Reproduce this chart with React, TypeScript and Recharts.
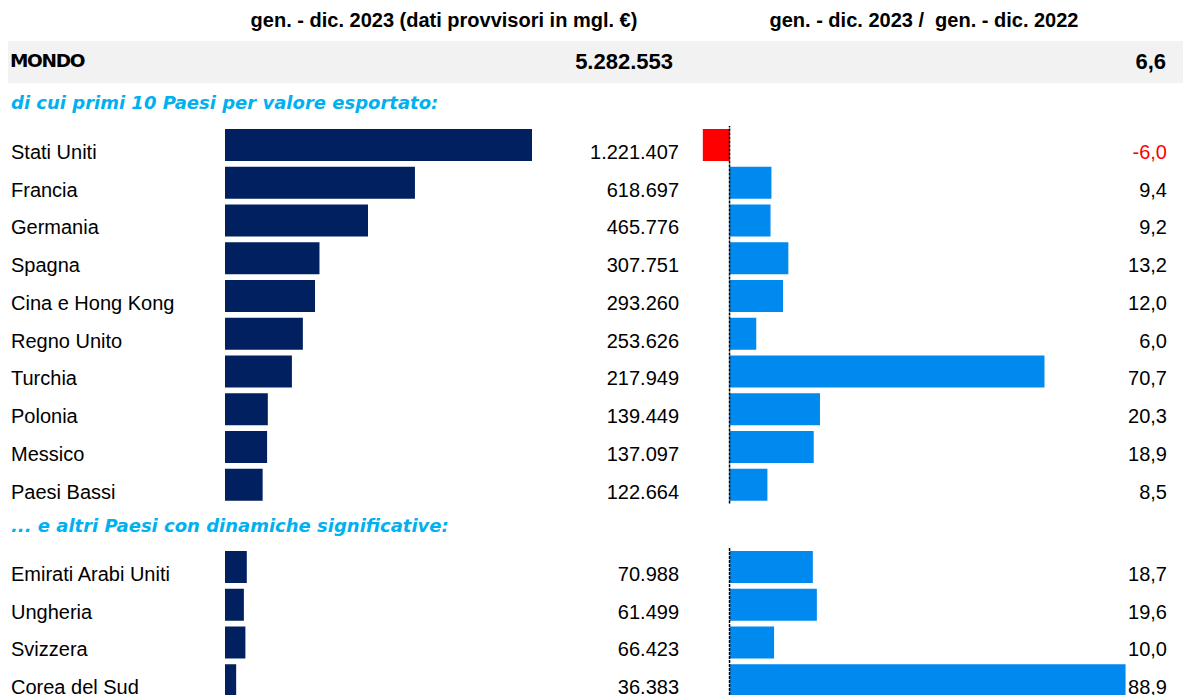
import React from 'react';
import { BarChart, Bar, XAxis, YAxis, Cell, ReferenceLine } from 'recharts';

// export values (thousand €) and change vs previous year (%)
const topCountries = ['Stati Uniti', 'Francia', 'Germania', 'Spagna', 'Cina e Hong Kong', 'Regno Unito', 'Turchia', 'Polonia', 'Messico', 'Paesi Bassi'];
const topExports = [1221407, 618697, 465776, 307751, 293260, 253626, 217949, 139449, 137097, 122664];
const topChanges = [-6.0, 9.4, 9.2, 13.2, 12.0, 6.0, 70.7, 20.3, 18.9, 8.5];

const otherCountries = ['Emirati Arabi Uniti', 'Ungheria', 'Svizzera', 'Corea del Sud'];
const otherExports = [70988, 61499, 66423, 36383];
const otherChanges = [18.7, 19.6, 10.0, 88.9];

const worldExports = 5282553;
const worldChange = 6.6;

const NAVY = '#002060';
const BLUE = '#0089EF';
const CYAN = '#00B0F0';
const ARIAL = '"Liberation Sans", Arial, sans-serif';
const TAHOMA = '"DejaVu Sans", Verdana, sans-serif';

const fmtInt = (v: number) => String(Math.round(v)).replace(/\B(?=(\d{3})+(?!\d))/g, '.');
const fmtPct = (v: number) => v.toFixed(1).replace('.', ',');

type Row = { name: string; value: number; change: number };

const makeRows = (names: string[], values: number[], changes: number[]): Row[] =>
  names.map((name, i) => ({ name, value: values[i], change: changes[i] }));

const topRows = makeRows(topCountries, topExports, topChanges);
const otherRows = makeRows(otherCountries, otherExports, otherChanges);

const ROW_H = 37.75;
const TEXT_DY = 14;

// left block: country name, bar, value
const ExportBars = ({ rows }: { rows: Row[] }) => {
  const byName: Record<string, Row> = {};
  rows.forEach(r => (byName[r.name] = r));
  const NameTick = (props: any) => (
    <text x={11} y={props.y + TEXT_DY} fontSize={20} fontFamily={ARIAL} fill="#000">
      {props.payload.value}
    </text>
  );
  const ValueTick = (props: any) => (
    <text x={679} y={props.y + TEXT_DY} fontSize={20} fontFamily={ARIAL} fill="#000" textAnchor="end">
      {fmtInt(byName[props.payload.value].value)}
    </text>
  );
  return (
    <BarChart
      width={690}
      height={rows.length * ROW_H}
      data={rows}
      layout="vertical"
      margin={{ top: 0, right: 0, bottom: 0, left: 0 }}
      barSize={32}
    >
      <XAxis type="number" domain={[0, 1000000]} allowDataOverflow hide />
      <YAxis yAxisId="names" type="category" dataKey="name" width={225} axisLine={false} tickLine={false} tick={NameTick} />
      <YAxis yAxisId="values" orientation="right" type="category" dataKey="name" width={158} axisLine={false} tickLine={false} tick={ValueTick} />
      <Bar yAxisId="names" dataKey="value" fill={NAVY} isAnimationActive={false} />
    </BarChart>
  );
};

// right block: change bar and percentage
const ChangeBars = ({ rows }: { rows: Row[] }) => {
  const byName: Record<string, Row> = {};
  rows.forEach(r => (byName[r.name] = r));
  const PctTick = (props: any) => {
    const v = byName[props.payload.value].change;
    return (
      <text x={482} y={props.y + TEXT_DY} fontSize={20} fontFamily={ARIAL} fill={v < 0 ? '#FF0000' : '#000'} textAnchor="end">
        {fmtPct(v)}
      </text>
    );
  };
  return (
    <BarChart
      width={498}
      height={rows.length * ROW_H}
      data={rows}
      layout="vertical"
      margin={{ top: 0, right: 0, bottom: 0, left: 0 }}
      barSize={32}
    >
      <XAxis type="number" domain={[-10, 100]} allowDataOverflow hide />
      <YAxis orientation="right" type="category" dataKey="name" width={8} axisLine={false} tickLine={false} tick={PctTick} />
      <Bar dataKey="change" isAnimationActive={false}>
        {rows.map(r => (
          <Cell key={r.name} fill={r.change < 0 ? '#FF0000' : BLUE} />
        ))}
      </Bar>
      <ReferenceLine x={0} stroke="#000" strokeWidth={1.5} strokeDasharray="3 1" />
    </BarChart>
  );
};

const abs = (left: number, top: number, extra: React.CSSProperties = {}): React.CSSProperties => ({
  position: 'absolute',
  left,
  top,
  ...extra,
});

const header: React.CSSProperties = { width: 420, textAlign: 'center', fontFamily: ARIAL, fontWeight: 'bold', fontSize: 20, whiteSpace: 'pre' };
const section: React.CSSProperties = { fontFamily: TAHOMA, fontWeight: 'bold', fontStyle: 'italic', fontSize: 18, color: CYAN, whiteSpace: 'pre' };

export default function App() {
  return (
    <div style={{ position: 'absolute', left: 0, top: 0, width: 1183, height: 695, overflow: 'hidden', background: '#fff' }}>
      {/* column headers */}
      <div style={abs(234, 9, header)}>gen. - dic. 2023 (dati provvisori in mgl. €)</div>
      <div style={abs(714, 9, header)}>{'gen. - dic. 2023 /  gen. - dic. 2022'}</div>

      {/* world total */}
      <div style={abs(8, 41, { width: 1175, height: 42, background: '#F2F2F2' })} />
      <div style={abs(10, 50, { fontFamily: TAHOMA, fontWeight: 'bold', fontSize: 18.5, letterSpacing: -1.3 })}>MONDO</div>
      <div style={abs(473, 49, { width: 200, textAlign: 'right', fontFamily: ARIAL, fontWeight: 'bold', fontSize: 22 })}>
        {fmtInt(worldExports)}
      </div>
      <div style={abs(966, 49, { width: 200, textAlign: 'right', fontFamily: ARIAL, fontWeight: 'bold', fontSize: 22 })}>
        {fmtPct(worldChange)}
      </div>

      {/* section 1 */}
      <div style={abs(11, 92, section)}>di cui primi 10 Paesi per valore esportato:</div>
      <div style={abs(0, 126)}>
        <ExportBars rows={topRows} />
      </div>
      <div style={abs(685, 126)}>
        <ChangeBars rows={topRows} />
      </div>

      {/* section 2 */}
      <div style={abs(11, 515, section)}>... e altri Paesi con dinamiche significative:</div>
      <div style={abs(0, 548)}>
        <ExportBars rows={otherRows} />
      </div>
      <div style={abs(685, 548)}>
        <ChangeBars rows={otherRows} />
      </div>
    </div>
  );
}
